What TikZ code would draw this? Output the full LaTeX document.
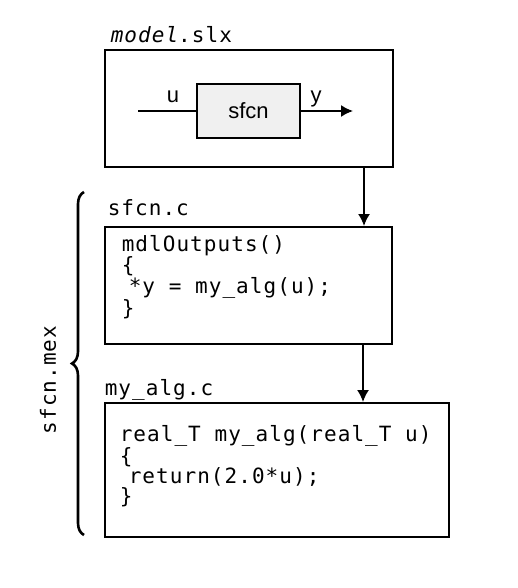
\documentclass[tikz,border=0pt]{standalone}
\usepackage{fontspec}
\setmainfont{Liberation Sans}
\newfontfamily\codefont[LetterSpace=5]{DejaVu Sans Mono}
\usepackage{tikz}
\usetikzlibrary{arrows.meta,positioning,decorations.pathreplacing}

\begin{document}
\begin{tikzpicture}[
  x=1pt, y=-1pt,
  line width=1.6pt,
  filebox/.style={draw, inner sep=0pt, anchor=north west},
  blockbox/.style={draw, fill=black!6, inner sep=0pt, font=\fontsize{22}{24}\selectfont},
  code/.style={font=\codefont\fontsize{21}{19.2}\selectfont, align=left, inner sep=0pt, anchor=base west},
  filelabel/.style={font=\codefont\fontsize{21}{24}\selectfont, inner sep=0pt, anchor=base west},
  sig/.style={font=\fontsize{22}{24}\selectfont, inner sep=0pt, anchor=base},
  arrow/.style={-{Latex[length=12pt,width=12pt]}, line width=1.6pt},
  bracedeco/.style={decorate, decoration={brace, amplitude=12pt}, line width=2.6pt},
]
\useasboundingbox (0,0) rectangle (517,588);

% model
\node[filebox, minimum width=288pt, minimum height=117pt] (model) at (104,49) {};
\node[filelabel] (modellbl) at (110,43) {\textit{model}.slx};
\node[blockbox, minimum width=103pt, minimum height=54pt] (sfcn) at (248.5,111) {sfcn};
\coordinate (uin) at (138,111);
\coordinate (yout) at (353,111);
\draw (uin) -- (sfcn.west);
\draw[arrow] (sfcn.east) -- (yout);
\node[sig] (ulbl) at (173,103) {u};
\node[sig] (ylbl) at (316,103) {y};

% sfcn.c (base = last line)
\node[filebox, minimum width=287pt, minimum height=117pt] (sfcnc) at (104,226) {};
\node[filelabel] (sfcnclbl) at (107,215) {sfcn.c};
\node[code] (sfcncode) at (121,315) {mdlOutputs()\\\{\\\hspace*{7pt}*y = my\_alg(u);\\\}};

% my_alg.c
\node[filebox, minimum width=344pt, minimum height=134pt] (myalg) at (104,402) {};
\node[filelabel] (myalglbl) at (104,395) {my\_alg.c};
\node[code] (myalgcode) at (119,503) {real\_T my\_alg(real\_T u)\\\{\\\hspace*{9pt}return(2.0*u);\\\}};

% arrows between files
\coordinate (down1) at (364,0);
\coordinate (down2) at (363,0);
\draw[arrow] (model.south -| down1) -- (sfcnc.north -| down1);
\draw[arrow] (sfcnc.south -| down2) -- (myalg.north -| down2);

% mex brace
\coordinate (bracebot) at (84,535);
\coordinate (bracetop) at (84,192);
\draw[bracedeco] (bracebot) -- (bracetop);
\node[font=\codefont\fontsize{21}{24}\selectfont, rotate=90, inner sep=0pt] (mexlbl) at (48,380) {sfcn.mex};
\end{tikzpicture}
\end{document}
